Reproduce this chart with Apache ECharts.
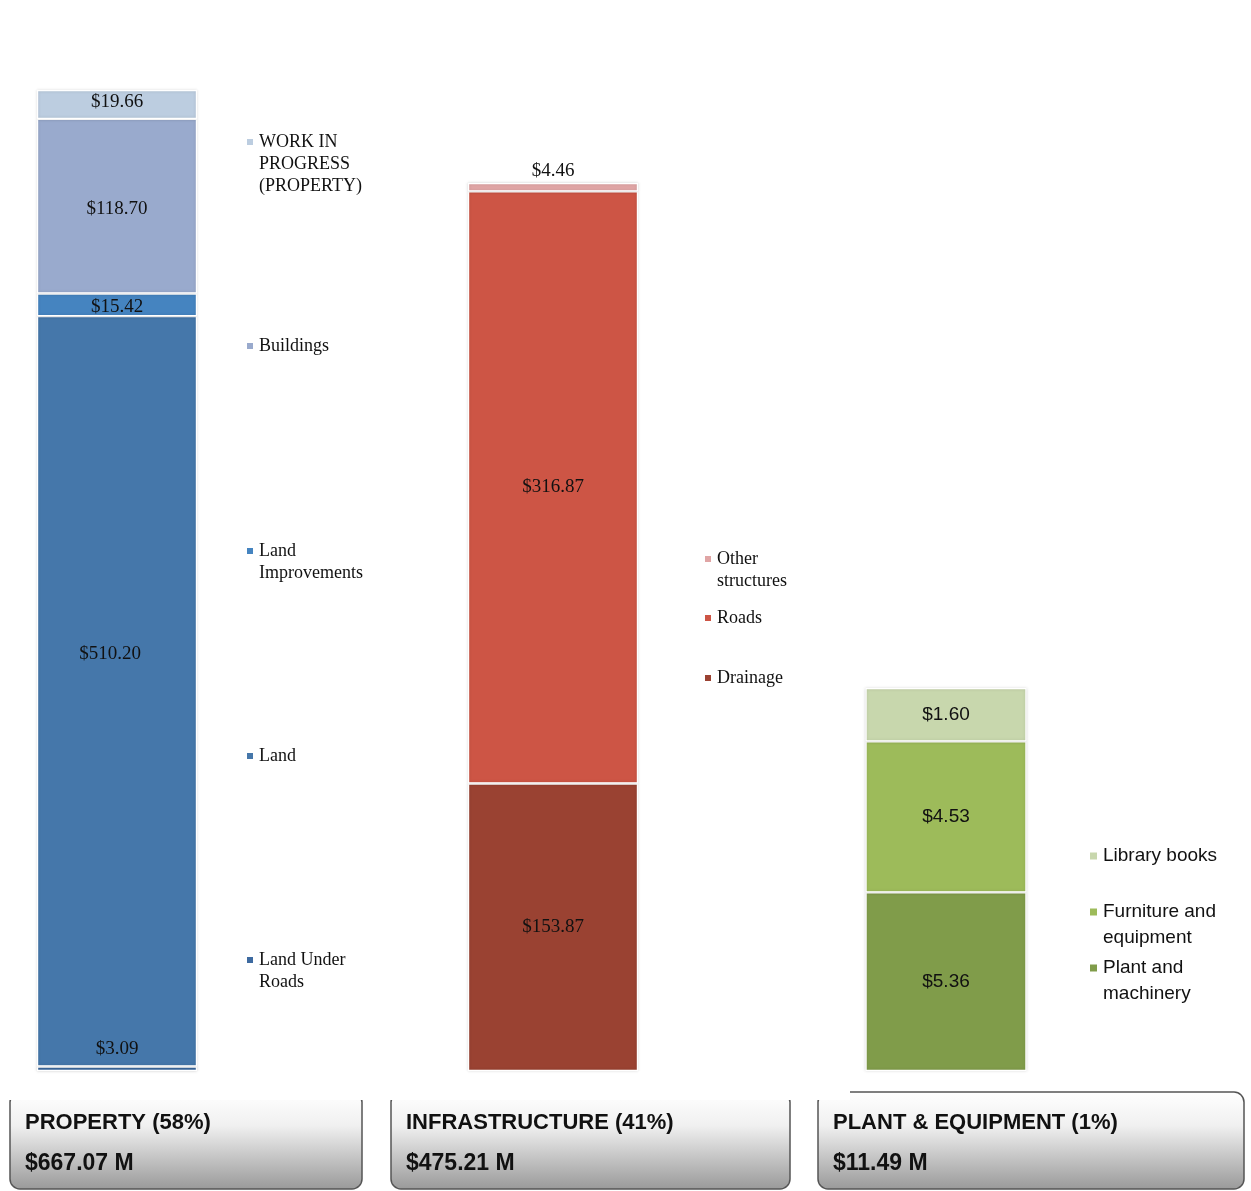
<!DOCTYPE html>
<html>
<head>
<meta charset="utf-8">
<script src="https://cdn.jsdelivr.net/npm/echarts@6/dist/echarts.min.js"></script>
<style>
html,body{margin:0;padding:0;background:#fff;}
#main{width:1251px;height:1191px;}
</style>
</head>
<body>
<div id="main"></div>
<script>
// 三组合计
var groupNames = ['PROPERTY', 'INFRASTRUCTURE', 'PLANT & EQUIPMENT'];
var groupTotals = [667.07, 475.21, 11.49];
var groupShares = [58, 41, 1];

// 各组分项，从下往上
var propertyNames = ['Land Under\nRoads', 'Land', 'Land\nImprovements', 'Buildings', 'WORK IN\nPROGRESS\n(PROPERTY)'];
var propertyValues = [3.09, 510.20, 15.42, 118.70, 19.66];

var infraNames = ['Drainage', 'Roads', 'Other\nstructures'];
var infraValues = [153.87, 316.87, 4.46];

var plantNames = ['Plant and\nmachinery', 'Furniture and\nequipment', 'Library books'];
var plantValues = [5.36, 4.53, 1.60];

// 颜色
var propertyColors = ['#3d6aa0', '#4577aa', '#4584c0', '#99aacd', '#bccde0'];
var infraColors = ['#9a4232', '#cd5545', '#e0a5a5'];
var plantColors = ['#809c4a', '#9dbb5a', '#c8d7ad'];

var serif = '"Liberation Serif", "DejaVu Serif", serif';
var sans = '"Liberation Sans", Arial, sans-serif';

var groups = [
    {names: propertyNames, values: propertyValues, colors: propertyColors,
     grid: {left: 17, width: 200, top: 90, bottom: 120}, barWidth: 160,
     font: serif, fontSize: 18, labelSize: 19, lineHeight: 22, iconSize: 8,
     legendLeft: 245, legendY: [960, 756, 551, 346, 142],
     labelOpt: [{position: 'top', distance: 2, offset: [0, -6]}, {offset: [-7, -37]}, {offset: [0, 2]}, {offset: [0, 3]}, {offset: [0, -2]}]},
    {names: infraNames, values: infraValues, colors: infraColors,
     grid: {left: 453, width: 200, top: 183, bottom: 120}, barWidth: 170,
     font: serif, fontSize: 18, labelSize: 19, lineHeight: 22, iconSize: 8,
     legendLeft: 703, legendY: [678, 618, 559],
     labelOpt: [{}, {}, {position: 'top', distance: 3}]},
    {names: plantNames, values: plantValues, colors: plantColors,
     grid: {left: 846, width: 200, top: 688, bottom: 120}, barWidth: 161,
     font: sans, fontSize: 19, labelSize: 19, lineHeight: 26, iconSize: 9,
     legendLeft: 1088, legendY: [968, 912, 856],
     labelOpt: [{}, {}, {}]}
];

var grids = [], xAxes = [], yAxes = [], series = [], legends = [];

groups.forEach(function(g, gi){
    grids.push(g.grid);
    xAxes.push({type: 'category', gridIndex: gi, data: [groupNames[gi]], show: false});
    yAxes.push({type: 'value', gridIndex: gi, min: 0, max: groupTotals[gi], show: false});

    g.names.forEach(function(name, i){
        var lab = {
            show: true,
            position: 'inside',
            fontFamily: g.font,
            fontSize: g.labelSize,
            color: '#111',
            formatter: function(p){ return '$' + p.value.toFixed(2); }
        };
        var extra = g.labelOpt[i];
        for (var k in extra) lab[k] = extra[k];

        series.push({
            name: name,
            type: 'bar',
            stack: 'g' + gi,
            xAxisIndex: gi,
            yAxisIndex: gi,
            barWidth: g.barWidth,
            data: [g.values[i]],
            itemStyle: {color: g.colors[i], borderColor: '#fff', borderWidth: 1.2,
                shadowBlur: 3, shadowColor: 'rgba(0,0,0,0.15)'},
            label: lab,
            emphasis: {disabled: true}
        });

        var n = name.split('\n').length;
        legends.push({
            data: [name],
            left: g.legendLeft,
            top: g.legendY[i] - (2 * n - 1) * g.lineHeight / 2,
            padding: 0,
            icon: 'rect',
            itemWidth: g.iconSize,
            itemHeight: g.iconSize,
            itemGap: 0,
            selectedMode: false,
            textStyle: {fontFamily: g.font, fontSize: g.fontSize, lineHeight: g.lineHeight, color: '#111'},
            formatter: function(nm){
                var pre = '';
                for (var j = 1; j < n; j++) pre += '\n';
                return pre + nm;
            }
        });
    });
});

// 底部汇总框
var boxX = [10, 391, 818];
var boxW = [352, 399, 426];
var graphic = [];
groupNames.forEach(function(name, gi){
    graphic.push({
        type: 'rect',
        shape: {x: boxX[gi], y: 1092, width: boxW[gi], height: 97, r: 10},
        style: {
            fill: new echarts.graphic.LinearGradient(0, 0, 0, 1, [
                {offset: 0, color: '#ffffff'},
                {offset: 0.35, color: '#f0f0f0'},
                {offset: 1, color: '#999999'}
            ]),
            stroke: '#555', lineWidth: 1.5
        }
    });
    graphic.push({
        type: 'text', left: boxX[gi] + 15, top: 1112,
        style: {text: name + ' (' + groupShares[gi] + '%)', font: 'bold 22px ' + sans, fill: '#111'}
    });
    graphic.push({
        type: 'text', left: boxX[gi] + 15, top: 1152,
        style: {text: '$' + groupTotals[gi].toFixed(2) + ' M', font: 'bold 23px ' + sans, fill: '#111'}
    });
});
// 上沿被遮住的部分
graphic.push({type: 'rect', shape: {x: 0, y: 1084, width: 850, height: 16}, style: {fill: '#fff'}});

var myChart = echarts.init(document.getElementById('main'));
var option = {
    animation: false,
    backgroundColor: '#fff',
    grid: grids,
    xAxis: xAxes,
    yAxis: yAxes,
    legend: legends,
    series: series,
    graphic: graphic
};
myChart.setOption(option);
</script>
</body>
</html>
